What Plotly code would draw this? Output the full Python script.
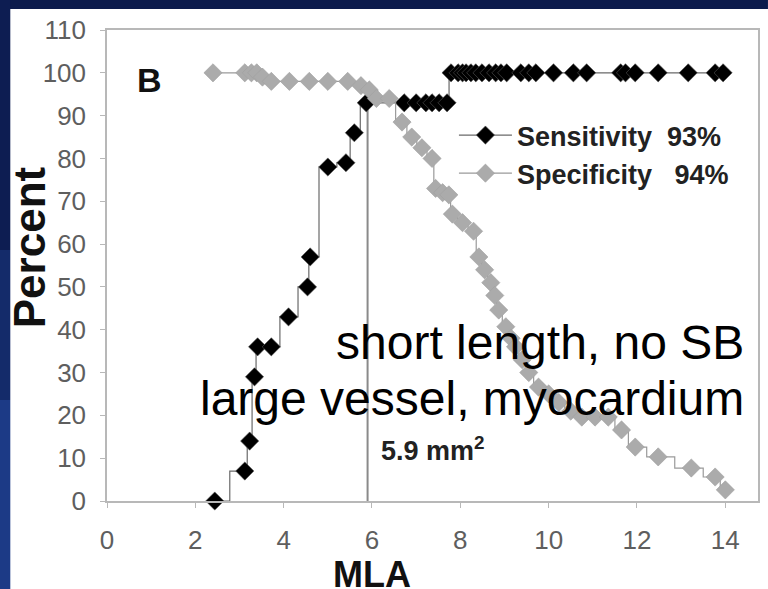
import plotly.graph_objects as go

# ---------------- data ----------------
sens_x = [2.44, 3.12, 3.23, 3.34, 3.41, 3.72, 4.11, 4.54, 4.60, 5.00, 5.41, 5.60, 5.87,
          6.73, 7.00, 7.22, 7.36, 7.52, 7.70,
          7.79, 7.95, 8.05, 8.13, 8.24, 8.35, 8.49, 8.65, 8.80, 8.92, 9.05, 9.37, 9.55, 9.71,
          10.11, 10.56, 10.86, 11.63, 11.74, 11.96, 12.48, 13.16, 13.77, 13.95]
sens_y = [0, 7, 14, 29, 36, 36, 43, 50, 57, 78, 79, 86, 93,
          93, 93, 93, 93, 93, 93,
          100, 100, 100, 100, 100, 100, 100, 100, 100, 100, 100, 100, 100, 100,
          100, 100, 100, 100, 100, 100, 100, 100, 100, 100]

spec_x = [2.40, 3.12, 3.27, 3.39, 3.52, 3.72, 4.13, 4.58, 5.00, 5.45, 5.75, 5.94, 6.10, 6.39,
          6.68, 6.90, 7.13, 7.36, 7.44, 7.60, 7.74, 7.82, 8.05, 8.30, 8.42, 8.55, 8.69, 8.78,
          8.87, 9.03, 9.15, 9.25, 9.40, 9.55, 9.77, 10.00, 10.23, 10.50, 10.75, 11.05, 11.35,
          11.65, 11.96, 12.48, 13.23, 13.77, 14.00]
spec_y = [100, 100, 100, 100, 99, 98, 98, 98, 98, 98, 97, 96, 94, 94,
          88.5, 85, 82.5, 80, 73, 72, 71.5, 67, 65, 63, 57, 54, 51, 48,
          44.6, 40.7, 38, 36, 33, 30, 26.6, 25, 23, 21, 19.6, 19.6, 19.6,
          16.6, 12.6, 10.3, 7.7, 5.6, 2.6]

cutoff_mla = 5.9
cutoff_sens = 93

legend_sens = "<b>Sensitivity\u00a0\u00a093%</b>"
legend_spec = "<b>Specificity\u00a0\u00a0\u00a094%</b>"

x_ticks = [0, 2, 4, 6, 8, 10, 12, 14]
y_ticks = [0, 10, 20, 30, 40, 50, 60, 70, 80, 90, 100, 110]

FONT = "Arial, Liberation Sans, sans-serif"

# ---------------- figure ----------------
W, H = 768, 589
ML, MR, MT, MB = 107, 8, 30, 88
PW, PH = W - ML - MR, H - MT - MB


def px2paper_x(px):
    return (px - ML) / PW


def px2paper_y(py):
    return (H - MB - py) / PH


fig = go.Figure()

fig.add_trace(go.Scatter(
    x=[cutoff_mla, cutoff_mla], y=[0, cutoff_sens], mode="lines",
    line=dict(color="#8a8a8a", width=2), showlegend=False, hoverinfo="skip"))

fig.add_trace(go.Scatter(
    x=sens_x, y=sens_y, mode="lines+markers", name=legend_sens,
    line=dict(color="#6a6a6a", width=1.2, shape="hvh"),
    marker=dict(symbol="diamond", size=14, color="#000000",
                line=dict(color="#555555", width=0.6)),
    cliponaxis=False))

fig.add_trace(go.Scatter(
    x=spec_x, y=spec_y, mode="lines+markers", name=legend_spec,
    line=dict(color="#9a9a9a", width=1.2, shape="hvh"),
    marker=dict(symbol="diamond", size=14, color="#ababab",
                line=dict(color="#a0a0a0", width=0.6)),
    cliponaxis=False))

shapes = [
    # dark blue slide frame: top band and left band (gradient)
    dict(type="rect", xref="paper", yref="paper", layer="below",
         x0=px2paper_x(-2), x1=px2paper_x(W + 2), y0=px2paper_y(9), y1=px2paper_y(-2),
         fillcolor="#0c1b4c", line=dict(width=0)),
    dict(type="rect", xref="paper", yref="paper", layer="below",
         x0=px2paper_x(-2), x1=px2paper_x(10), y0=px2paper_y(250), y1=px2paper_y(-2),
         fillcolor="#0d1d52", line=dict(width=0)),
    dict(type="rect", xref="paper", yref="paper", layer="below",
         x0=px2paper_x(-2), x1=px2paper_x(10), y0=px2paper_y(400), y1=px2paper_y(250),
         fillcolor="#142b6a", line=dict(width=0)),
    dict(type="rect", xref="paper", yref="paper", layer="below",
         x0=px2paper_x(-2), x1=px2paper_x(10), y0=px2paper_y(H + 2), y1=px2paper_y(400),
         fillcolor="#1c3a86", line=dict(width=0)),
]

annotations = [
    dict(text="<b>B</b>", x=0.97, y=98.3, xref="x", yref="y", showarrow=False,
         font=dict(family=FONT, size=34, color="#111111")),
    dict(text="<b>5.9 mm<sup>2</sup></b>", x=6.16, y=12.2, xref="x", yref="y",
         xanchor="left", yanchor="middle", showarrow=False,
         font=dict(family=FONT, size=27, color="#222222")),
    dict(text="short length, no SB", x=14.47, y=37.0, xref="x", yref="y",
         xanchor="right", yanchor="middle", showarrow=False,
         font=dict(family=FONT, size=48, color="#000000")),
    dict(text="large vessel, myocardium", x=14.47, y=23.9, xref="x", yref="y",
         xanchor="right", yanchor="middle", showarrow=False,
         font=dict(family=FONT, size=48, color="#000000")),
    dict(text="<b>MLA</b>", x=px2paper_x(373), y=px2paper_y(574), xref="paper", yref="paper",
         xanchor="center", yanchor="middle", showarrow=False,
         font=dict(family=FONT, size=36, color="#111111")),
    dict(text="<b>Percent</b>", x=px2paper_x(29), y=px2paper_y(247), xref="paper", yref="paper",
         xanchor="center", yanchor="middle", showarrow=False, textangle=-90,
         font=dict(family=FONT, size=44, color="#111111")),
]

fig.update_layout(
    width=W, height=H,
    margin=dict(l=ML, r=MR, t=MT, b=MB, pad=0),
    paper_bgcolor="#ffffff",
    plot_bgcolor="#ffffff",
    font=dict(family=FONT),
    shapes=shapes,
    annotations=annotations,
    showlegend=True,
    legend=dict(x=px2paper_x(455), y=px2paper_y(111), xanchor="left", yanchor="top",
                bgcolor="rgba(0,0,0,0)", borderwidth=0, itemwidth=53,
                font=dict(family=FONT, size=27, color="#222222"),
                tracegroupgap=0),
    xaxis=dict(range=[0, 14.74], tickvals=x_ticks, ticktext=[str(v) for v in x_ticks],
               showgrid=False, zeroline=False, showline=True, linecolor="#b8b8b8",
               linewidth=1.5, mirror=True, ticks="outside", ticklen=5, tickcolor="#b8b8b8",
               ticklabelstandoff=10,
               tickfont=dict(family=FONT, size=26, color="#5e5e5e")),
    yaxis=dict(range=[0, 110], tickvals=y_ticks, ticktext=[str(v) for v in y_ticks],
               showgrid=False, zeroline=False, showline=True, linecolor="#b8b8b8",
               linewidth=1.5, mirror=True, ticks="outside", ticklen=5, tickcolor="#b8b8b8",
               ticklabelstandoff=9,
               tickfont=dict(family=FONT, size=26, color="#5e5e5e")),
)

fig.write_html("out.html")
